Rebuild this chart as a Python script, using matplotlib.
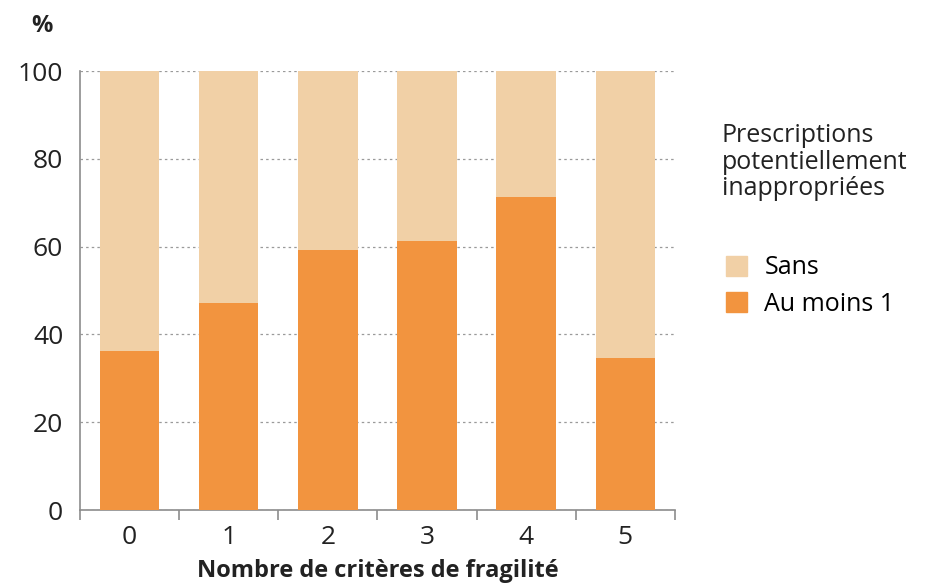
import matplotlib
matplotlib.use("Agg")
import matplotlib.pyplot as plt
from matplotlib.patches import Patch
import numpy as np

# data
categories = ["0", "1", "2", "3", "4", "5"]
au_moins_1 = [36.3, 47.1, 59.2, 61.3, 71.4, 34.6]
sans = [100 - v for v in au_moins_1]

dark = "#F2943F"
light = "#F1D0A6"
grey = "#8c8c8c"

plt.rcParams["font.family"] = ["Open Sans", "DejaVu Sans"]

fig = plt.figure(figsize=(9.4, 5.87), dpi=100)
ax = fig.add_axes([0.085, 0.131, 0.633, 0.748])

x = np.arange(len(categories))
ax.bar(x, au_moins_1, width=0.6, color=dark, zorder=3)
ax.bar(x, sans, width=0.6, bottom=au_moins_1, color=light, zorder=3)

ax.set_ylim(0, 100)
ax.set_xlim(-0.5, len(categories) - 0.5)
ax.set_yticks([0, 20, 40, 60, 80, 100])
ax.yaxis.grid(True, linestyle=(0, (2, 2.5)), color="#9a9a9a", linewidth=0.9, zorder=0)
ax.set_axisbelow(True)

# category labels in the middle, tick marks on the boundaries
ax.set_xticks(x)
ax.set_xticklabels(categories)
ax.tick_params(axis="x", length=0, pad=11, labelsize=19, colors="#222222")
ax.set_xticks(np.arange(-0.5, len(categories)), minor=True)
ax.tick_params(axis="x", which="minor", length=7, width=1.2, color=grey)
ax.tick_params(axis="y", length=0, pad=12, labelsize=19, colors="#222222")

for s in ["top", "right"]:
    ax.spines[s].set_visible(False)
for s in ["left", "bottom"]:
    ax.spines[s].set_color(grey)
    ax.spines[s].set_linewidth(1.2)

ax.set_xlabel("Nombre de critères de fragilité", fontsize=17, fontweight="bold",
              color="#222222", labelpad=6)
fig.text(0.045, 0.935, "%", fontsize=17, fontweight="bold", color="#222222",
         ha="center", va="bottom")

handles = [Patch(color=light, label="Sans"), Patch(color=dark, label="Au moins 1")]
leg = fig.legend(handles=handles, loc="upper left", bbox_to_anchor=(0.772, 0.565),
                 frameon=False, fontsize=18, handlelength=0.85, handleheight=0.85,
                 handletextpad=0.7, labelspacing=0.45, borderaxespad=0, borderpad=0)
fig.text(0.768, 0.79, "Prescriptions\npotentiellement\ninappropriées", fontsize=18,
         color="#222222", va="top", ha="left", linespacing=1.08)

fig.savefig("out.png", dpi=100)
